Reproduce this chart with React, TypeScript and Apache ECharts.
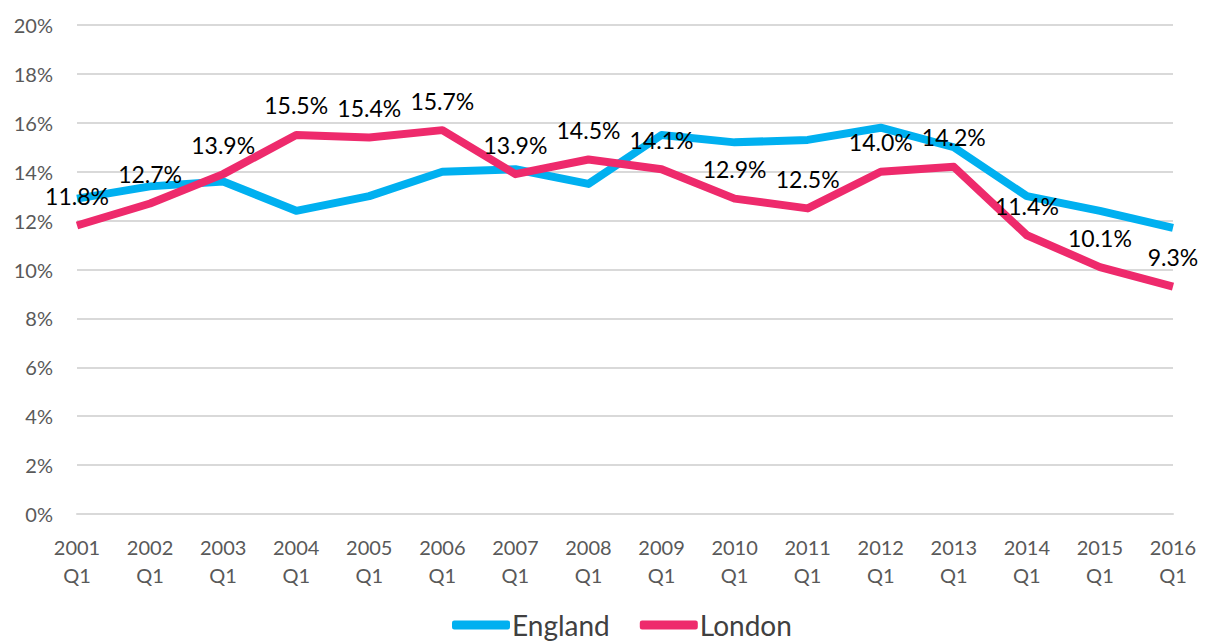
import React, { useEffect, useRef } from "react";
import * as echarts from "echarts";

const categories = [
  "2001\nQ1", "2002\nQ1", "2003\nQ1", "2004\nQ1", "2005\nQ1", "2006\nQ1", "2007\nQ1", "2008\nQ1",
  "2009\nQ1", "2010\nQ1", "2011\nQ1", "2012\nQ1", "2013\nQ1", "2014\nQ1", "2015\nQ1", "2016\nQ1",
];
const england = [12.9, 13.4, 13.6, 12.4, 13.0, 14.0, 14.1, 13.5, 15.5, 15.2, 15.3, 15.8, 15.0, 13.0, 12.4, 11.7];
const london = [11.8, 12.7, 13.9, 15.5, 15.4, 15.7, 13.9, 14.5, 14.1, 12.9, 12.5, 14.0, 14.2, 11.4, 10.1, 9.3];
const yTicks = { min: 0, max: 20, interval: 2 };

const FONT = "Lato, 'Open Sans', sans-serif";

export default function App() {
  const ref = useRef<HTMLDivElement>(null);
  useEffect(() => {
    if (!ref.current) return;
    const chart = echarts.init(ref.current, null, { renderer: "svg" });
    chart.setOption({
      animation: false,
      backgroundColor: "#ffffff",
      grid: { left: 77, right: 33, top: 25, bottom: 127, containLabel: false },
      legend: {
        left: 452,
        top: 610,
        padding: 0,
        itemWidth: 58,
        itemHeight: 9,
        itemGap: 30,
        icon: "roundRect",
        textStyle: { fontFamily: FONT, fontSize: 28, lineHeight: 30, color: "#404040", padding: [0, 0, 0, -3] },
        data: ["England", "London"],
      },
      xAxis: {
        type: "category",
        boundaryGap: false,
        data: categories,
        axisLine: { show: true, lineStyle: { color: "#d9d9d9", width: 2 } },
        axisTick: { show: false },
        axisLabel: {
          fontFamily: FONT,
          fontSize: 20,
          color: "#595959",
          lineHeight: 28,
          margin: 19,
          interval: 0,
        },
      },
      yAxis: {
        type: "value",
        min: yTicks.min,
        max: yTicks.max,
        interval: yTicks.interval,
        axisLine: { show: false },
        axisTick: { show: false },
        splitLine: { lineStyle: { color: "#d9d9d9", width: 2 } },
        axisLabel: {
          fontFamily: FONT,
          fontSize: 20,
          color: "#595959",
          margin: 24,
          formatter: (v: number) => `${v}%`,
        },
      },
      series: [
        {
          name: "England",
          type: "line",
          data: england,
          symbol: "circle",
          symbolSize: 0.1,
          showSymbol: true,
          lineStyle: { color: "#00B0F0", width: 8, join: "round" },
          itemStyle: { color: "#00B0F0" },
          label: { show: false },
        },
        {
          name: "London",
          type: "line",
          data: london,
          symbol: "circle",
          symbolSize: 0.1,
          showSymbol: true,
          lineStyle: { color: "#EE2A6C", width: 8, join: "round" },
          itemStyle: { color: "#EE2A6C" },
          label: {
            show: true,
            position: "top",
            distance: 18,
            fontFamily: FONT,
            fontSize: 23,
            color: "#000000",
            formatter: (p: any) => `${Number(p.value).toFixed(1)}%`,
          },
        },
      ],
    });
    return () => chart.dispose();
  }, []);
  return (
    <div
      ref={ref}
      style={{ position: "absolute", left: 0, top: 0, width: 1206, height: 641 }}
    />
  );
}
